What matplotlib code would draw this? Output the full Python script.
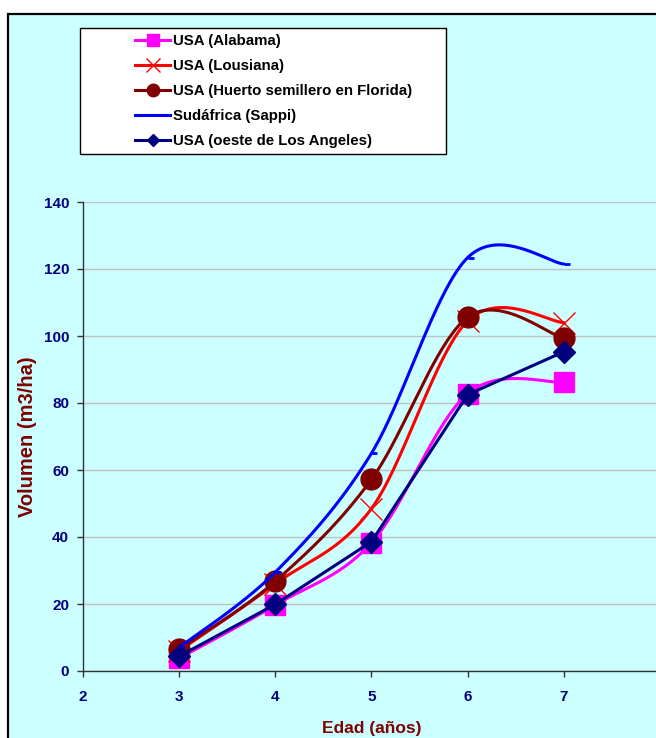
import numpy as np
import matplotlib
matplotlib.use("Agg")
import matplotlib.pyplot as plt
from matplotlib.patches import Rectangle
from matplotlib.path import Path
from matplotlib.lines import Line2D

# ---- data -------------------------------------------------------------
edad = [3, 4, 5, 6, 7]
alabama = [3.8, 19.7, 38.3, 82.8, 86.2]
lousiana = [6.0, 26.0, 48.5, 104.5, 104.0]
florida = [6.5, 26.8, 57.2, 105.6, 99.3]
sappi = [7.0, 29.5, 65.0, 123.4, 121.5]
los_angeles = [4.4, 19.9, 38.6, 82.5, 95.3]

labels = ["USA (Alabama)", "USA (Lousiana)", "USA (Huerto semillero en Florida)",
          "Sudáfrica (Sappi)", "USA (oeste de Los Angeles)"]
xticks = [2, 3, 4, 5, 6, 7]
yticks = [0, 20, 40, 60, 80, 100, 120, 140]

BG = "#CCFFFF"
NAVY = "#000080"
DARKRED = "#800000"
plt.rcParams["font.family"] = ["Liberation Sans", "DejaVu Sans"]
plt.rcParams["font.weight"] = "bold"


def smooth(x, y, n=40):
    """Catmull-Rom style Bezier smoothing through every point."""
    x = np.asarray(x, float)
    y = np.asarray(y, float)
    P = np.column_stack([x, y])
    out = [P[0]]
    t = np.linspace(0, 1, n)[1:, None]
    for i in range(len(P) - 1):
        p0 = P[i - 1] if i > 0 else P[i]
        p1, p2 = P[i], P[i + 1]
        p3 = P[i + 2] if i + 2 < len(P) else P[i + 1]
        c1 = p1 + (p2 - p0) / 6.0
        c2 = p2 - (p3 - p1) / 6.0
        seg = ((1 - t) ** 3) * p1 + 3 * ((1 - t) ** 2) * t * c1 \
            + 3 * (1 - t) * t ** 2 * c2 + t ** 3 * p2
        out.extend(seg)
    out = np.array(out)
    return out[:, 0], out[:, 1]


fig = plt.figure(figsize=(6.56, 7.38), dpi=100)
fig.patch.set_facecolor("white")
# chart area frame
fig.patches.append(Rectangle((8 / 656, -0.05), 1.2, 1 - 14 / 738 + 0.05,
                             transform=fig.transFigure, facecolor=BG,
                             edgecolor="black", linewidth=1.6, zorder=-5))

ax = fig.add_axes([83 / 656, 67 / 738, 577 / 656, 469 / 738])
ax.set_facecolor(BG)
ax.set_xlim(2, 8)
ax.set_ylim(0, 140)
ax.set_xticks(xticks)
ax.set_yticks(yticks)
ax.yaxis.grid(True, color="#C0C0C0", linewidth=1.0)
ax.set_axisbelow(True)
for s in ["top", "right"]:
    ax.spines[s].set_visible(False)
for s in ["left", "bottom"]:
    ax.spines[s].set_color("#333333")
    ax.spines[s].set_linewidth(1.0)
ax.tick_params(direction="out", length=4, width=1, color="#333333",
               labelcolor=NAVY, labelsize=11, pad=6)
for lab in ax.get_xticklabels() + ax.get_yticklabels():
    lab.set_fontweight("bold")
ax.tick_params(axis="x", pad=10)

ax.set_xlabel("Edad (años)", color=DARKRED, fontsize=12.5, fontweight="bold", labelpad=12)
ax.set_ylabel("Volumen (m3/ha)", color=DARKRED, fontsize=14.5, fontweight="bold", labelpad=5)

dash = Path([(0, 0), (1, 0)], [Path.MOVETO, Path.LINETO])

series = [
    (alabama, "#FF00FF", "s", 15, True, dict(markerfacecolor="#FF00FF", markeredgecolor="#FF00FF")),
    (lousiana, "#FF0000", "x", 16, True, dict(markeredgecolor="#FF0000", markeredgewidth=1.0)),
    (florida, DARKRED, "o", 15, True, dict(markerfacecolor=DARKRED, markeredgecolor=DARKRED)),
    (sappi, "#0000FF", dash, 9, True, dict(markeredgecolor="#0000FF", markeredgewidth=2.0)),
    (los_angeles, NAVY, "D", 11, False, dict(markerfacecolor=NAVY, markeredgecolor=NAVY)),
]

handles = []
for z, (vals, col, mk, ms, sm, kw) in enumerate(series):
    if sm:
        xs, ys = smooth(edad, vals)
    else:
        xs, ys = edad, vals
    ax.plot(xs, ys, color=col, linewidth=2.2, zorder=3 + z, solid_capstyle="round")
    ax.plot(edad, vals, linestyle="none", marker=mk, markersize=ms, zorder=3 + z, **kw)
    handles.append(Line2D([], [], color=col, linewidth=2.2, marker=mk,
                          markersize=ms * 0.6 if mk != dash else ms, **kw))

# legend box
fig.patches.append(Rectangle((80 / 656, 1 - 154 / 738), 366 / 656, 126 / 738,
                             transform=fig.transFigure, facecolor="white",
                             edgecolor="black", linewidth=1.0, zorder=1))
fig.legend(handles, labels, loc="upper left",
           bbox_to_anchor=(135 / 656, 1 - 34 / 738), frameon=False,
           borderpad=0, borderaxespad=0, handlelength=2.35, handletextpad=0.18,
           labelspacing=0.73, numpoints=1,
           prop=dict(family="Liberation Sans", weight="bold", size=10.8))

fig.savefig("out.png", dpi=100)
